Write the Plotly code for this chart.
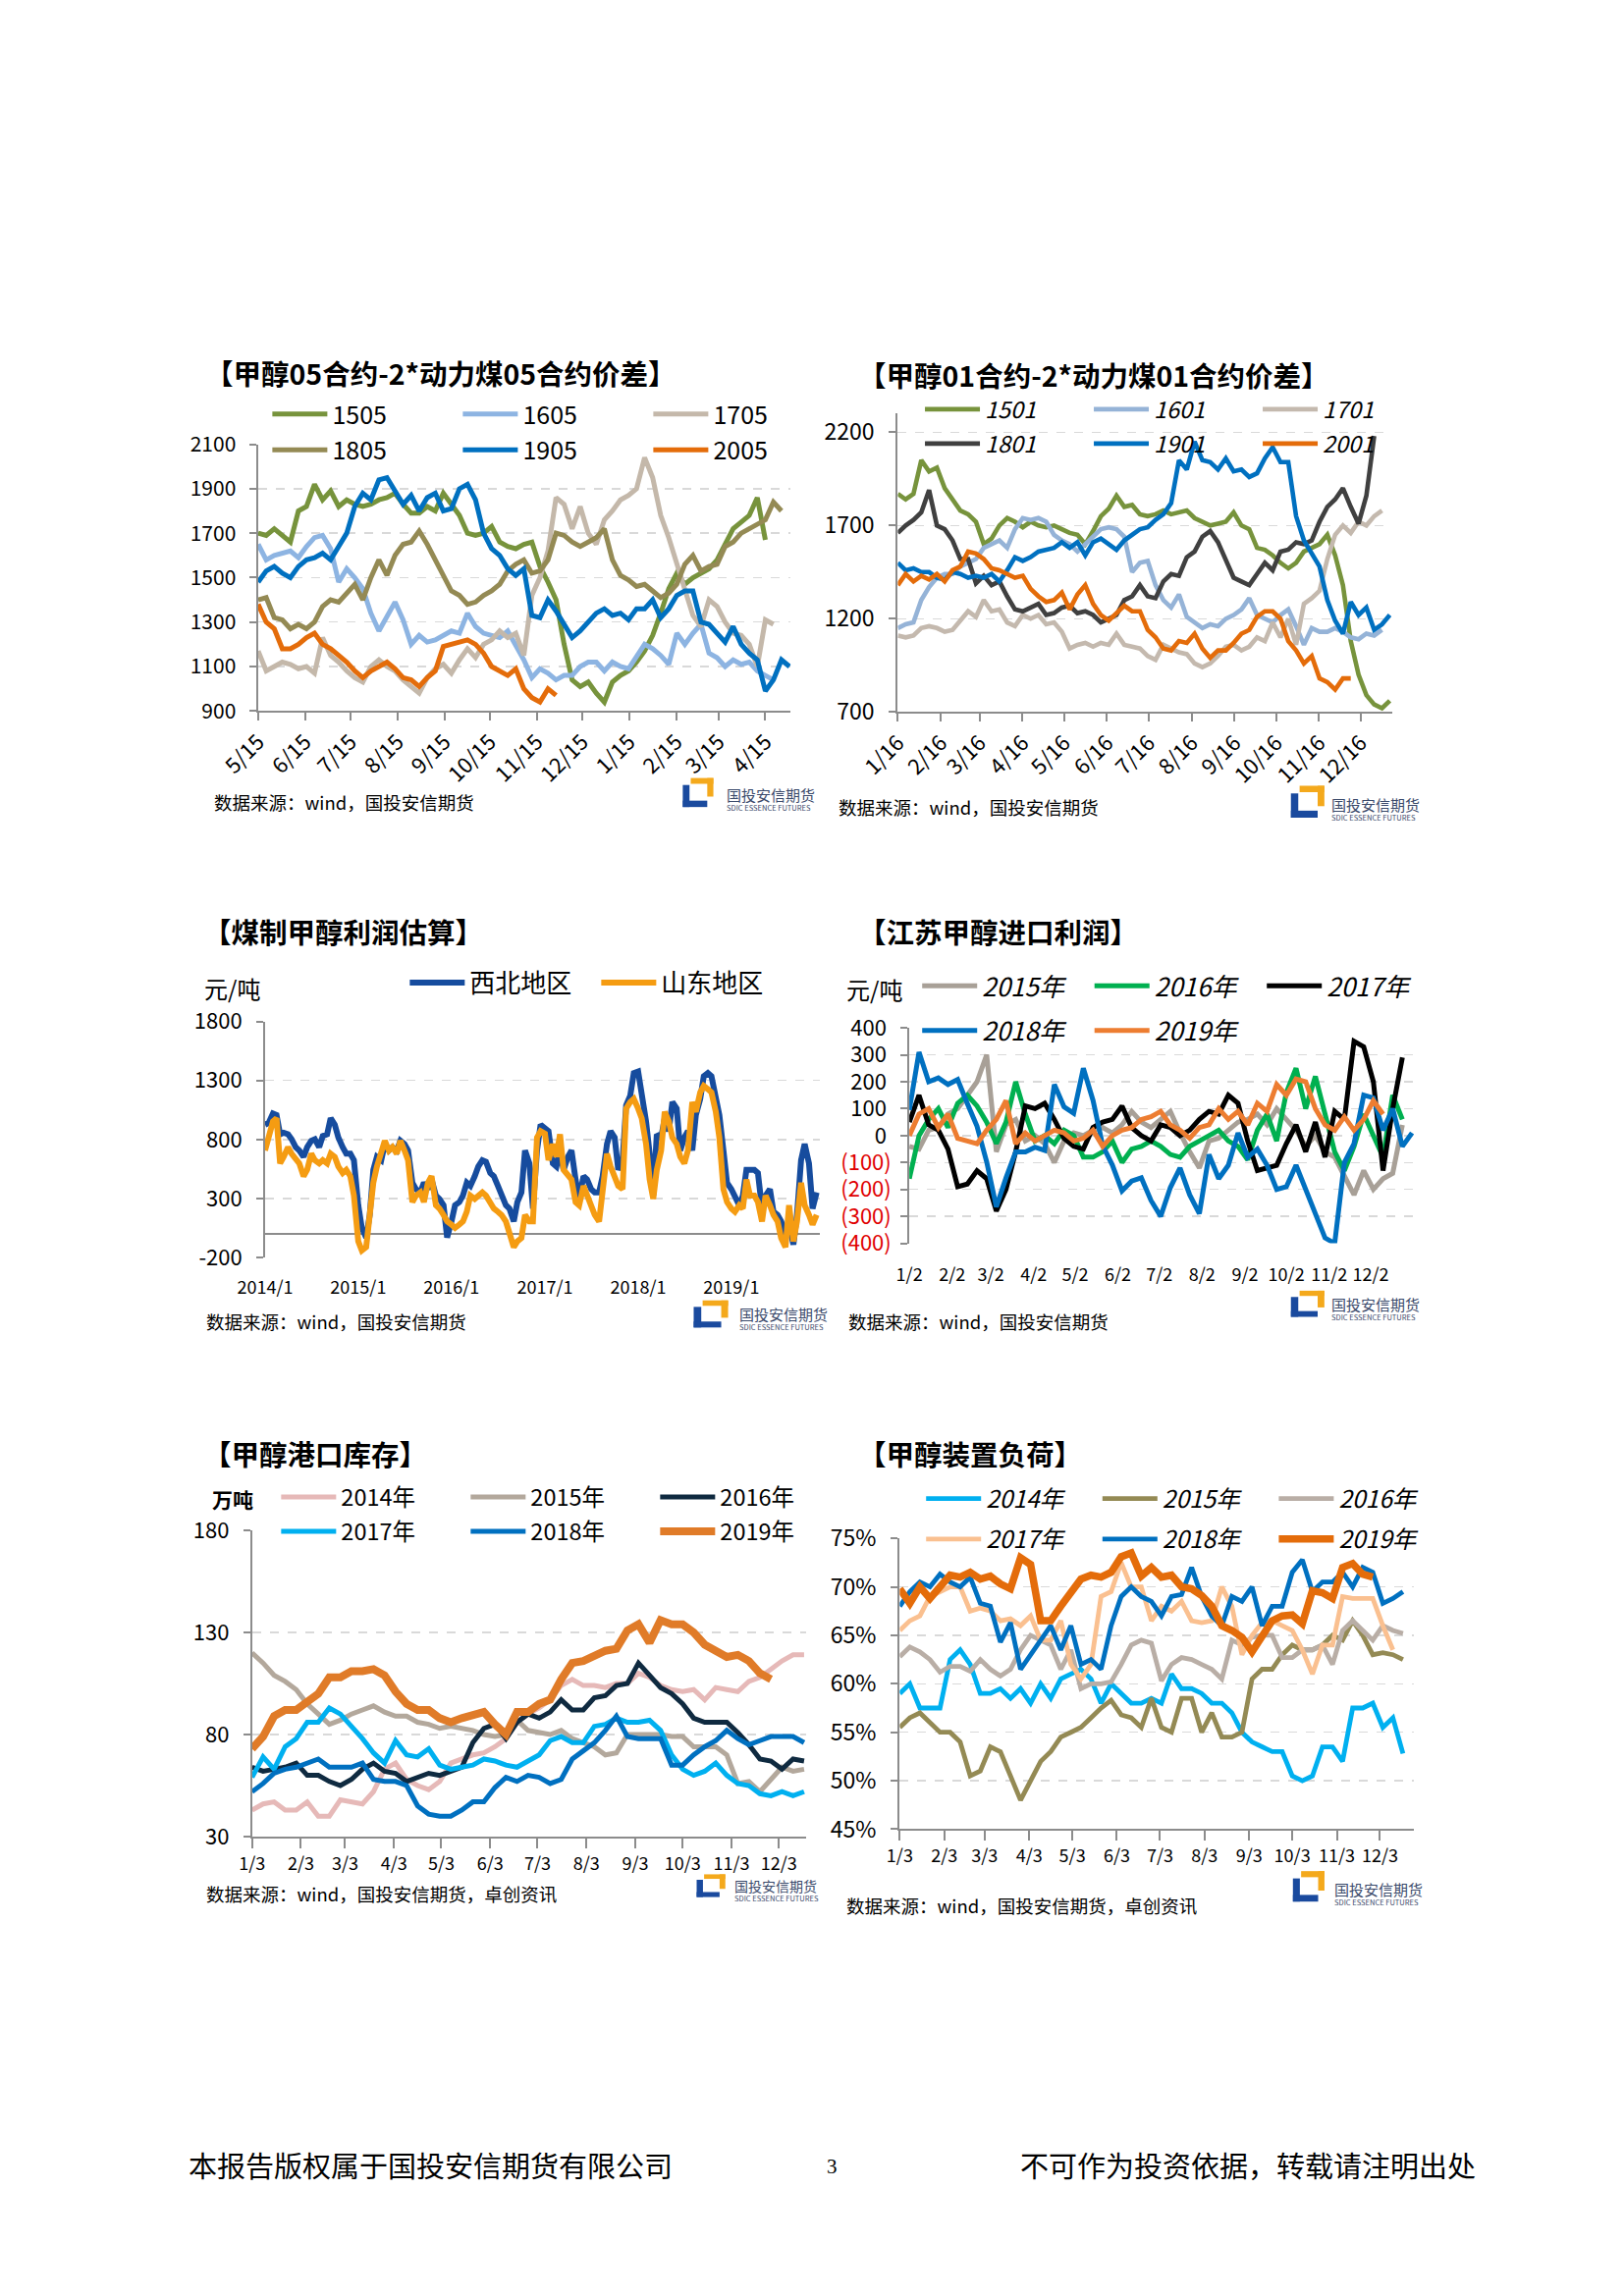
import numpy as np
import pandas as pd
import plotly.graph_objects as go

W, H = 1654, 2339
FONT = "Noto Sans CJK SC"
AX = "#8C8C8C"
GRID = "#D9D9D9"
NB = "\u00a0"

# ---------------- Panel 1: 甲醇05合约-2*动力煤05合约价差 ----------------
P1_STEP = 335 / 63  # days between samples (from 5/15)
P1_TICKS = [0, 31, 61, 92, 123, 153, 184, 214, 245, 276, 304, 335]
P1_LABELS = ["5/15", "6/15", "7/15", "8/15", "9/15", "10/15", "11/15", "12/15", "1/15", "2/15", "3/15", "4/15"]
P1_1505 = [1700, 1690, 1720, 1690, 1660, 1800, 1820, 1920, 1850, 1890, 1820, 1850, 1830, 1820, 1830, 1850, 1860, 1880,
           1830, 1790, 1790, 1820, 1800, 1880, 1830, 1780, 1700, 1690, 1700, 1730, 1660, 1640, 1630, 1650, 1660, 1550,
           1480, 1400, 1200, 1040, 1010, 1030, 980, 940, 1030, 1060, 1080, 1120, 1170, 1240, 1340, 1450, 1520, 1470,
           1500, 1520, 1540, 1580, 1650, 1720, 1750, 1780, 1860, 1670]
P1_1605 = [1650, 1580, 1600, 1610, 1620, 1590, 1640, 1680, 1690, 1630, 1480, 1540, 1500, 1450, 1340, 1260, 1330, 1390,
           1310, 1200, 1240, 1210, 1220, 1240, 1260, 1250, 1340, 1280, 1250, 1240, 1230, 1260, 1200, 1130, 1050, 1090,
           1070, 1040, 1060, 1060, 1100, 1120, 1120, 1080, 1120, 1100, 1090, 1150, 1200, 1180, 1150, 1110, 1250, 1200,
           1250, 1290, 1160, 1140, 1100, 1130, 1110, 1120, 1080, 1060, 1040]
P1_1705 = [1170, 1080, 1100, 1120, 1110, 1090, 1100, 1070, 1230, 1150, 1120, 1080, 1050, 1030, 1100, 1130, 1100, 1080,
           1040, 1010, 980, 1050, 1090, 1110, 1070, 1130, 1180, 1140, 1200, 1220, 1260, 1230, 1250, 1150, 1420, 1500,
           1620, 1860, 1830, 1720, 1820, 1700, 1650, 1760, 1800, 1850, 1870, 1900, 2040, 1950, 1780, 1680, 1560, 1450,
           1330, 1280, 1400, 1370, 1300, 1250, 1240, 1200, 1100, 1310, 1290]
P1_1805 = [1400, 1410, 1320, 1310, 1270, 1290, 1270, 1300, 1370, 1400, 1390, 1430, 1470, 1400, 1500, 1580, 1510, 1600,
           1650, 1660, 1710, 1650, 1580, 1510, 1440, 1420, 1380, 1390, 1420, 1440, 1470, 1530, 1560, 1580, 1520, 1530,
           1580, 1700, 1690, 1660, 1640, 1660, 1680, 1720, 1580, 1510, 1490, 1460, 1470, 1440, 1410, 1430, 1470, 1560,
           1600, 1530, 1550, 1560, 1640, 1660, 1700, 1720, 1740, 1760, 1840, 1800]
P1_1905 = [1480, 1530, 1550, 1520, 1500, 1550, 1580, 1590, 1610, 1580, 1640, 1700, 1820, 1880, 1850, 1940, 1950, 1890,
           1830, 1870, 1800, 1860, 1880, 1800, 1810, 1900, 1920, 1850, 1700, 1630, 1600, 1540, 1510, 1540, 1330, 1320,
           1400, 1350, 1290, 1230, 1260, 1300, 1340, 1360, 1330, 1340, 1310, 1360, 1360, 1400, 1320, 1360, 1420, 1440,
           1440, 1300, 1290, 1250, 1210, 1280, 1200, 1160, 1130, 990, 1040, 1130, 1100]
P1_2005 = [1380, 1300, 1270, 1180, 1180, 1200, 1230, 1250, 1200, 1180, 1150, 1120, 1080, 1050, 1080, 1100, 1120, 1090,
           1050, 1040, 1010, 1050, 1080, 1190, 1200, 1210, 1220, 1200, 1160, 1100, 1080, 1060, 1090, 1000, 960, 940,
           1000, 970]

# ---------------- Panel 2: 甲醇01合约-2*动力煤01合约价差 ----------------
P2_STEP = 334 / 59.25
P2_TICKS = [0, 31, 59, 90, 120, 151, 181, 212, 243, 273, 304, 334]
P2_LABELS = ["1/16", "2/16", "3/16", "4/16", "5/16", "6/16", "7/16", "8/16", "9/16", "10/16", "11/16", "12/16"]
P2_1501 = [1870, 1840, 1870, 2050, 1990, 2010, 1900, 1840, 1780, 1760, 1720, 1600, 1630, 1700, 1740, 1720, 1690, 1720,
           1700, 1690, 1700, 1680, 1660, 1650, 1600, 1670, 1750, 1790, 1860, 1800, 1810, 1760, 1750, 1760, 1780, 1760,
           1770, 1780, 1740, 1720, 1700, 1710, 1720, 1770, 1700, 1680, 1580, 1570, 1540, 1500, 1470, 1500, 1560, 1580,
           1600, 1650, 1540, 1380, 1080, 900, 790, 740, 720, 760]
P2_1601 = [1150, 1170, 1180, 1300, 1370, 1420, 1440, 1440, 1480, 1500, 1520, 1580, 1600, 1620, 1580, 1680, 1740, 1730,
           1740, 1720, 1650, 1620, 1600, 1560, 1600, 1640, 1680, 1690, 1680, 1640, 1450, 1500, 1510, 1380, 1300, 1260,
           1330, 1210, 1180, 1150, 1170, 1160, 1200, 1220, 1250, 1310, 1220, 1200, 1180, 1220, 1250, 1160, 1060, 1150,
           1130, 1130, 1150, 1130, 1100, 1090, 1120, 1110, 1140]
P2_1701 = [1110, 1100, 1110, 1150, 1160, 1150, 1130, 1140, 1190, 1240, 1210, 1300, 1240, 1250, 1180, 1160, 1220, 1200,
           1220, 1170, 1180, 1130, 1040, 1060, 1070, 1050, 1070, 1060, 1120, 1060, 1050, 1040, 1000, 980, 1060, 1040,
           1020, 1010, 960, 940, 960, 1000, 1050, 1060, 1030, 1050, 1100, 1080, 1180, 1100, 1200, 1060, 1280, 1310,
           1350, 1520, 1650, 1700, 1660, 1720, 1700, 1750, 1780]
P2_1801 = [1660, 1700, 1730, 1770, 1890, 1700, 1680, 1620, 1520, 1520, 1390, 1430, 1380, 1400, 1320, 1250, 1240, 1260,
           1280, 1220, 1230, 1260, 1270, 1230, 1240, 1220, 1180, 1200, 1220, 1300, 1320, 1380, 1320, 1310, 1400, 1440,
           1430, 1530, 1560, 1640, 1670, 1610, 1520, 1420, 1400, 1380, 1440, 1500, 1460, 1560, 1570, 1610, 1600, 1620,
           1720, 1800, 1840, 1900, 1800, 1710, 1860, 2180]
P2_1901 = [1500, 1460, 1470, 1450, 1450, 1420, 1410, 1450, 1440, 1420, 1430, 1420, 1440, 1400, 1460, 1530, 1510, 1530,
           1560, 1570, 1580, 1610, 1580, 1610, 1540, 1610, 1630, 1600, 1570, 1620, 1650, 1680, 1690, 1730, 1760, 1820,
           2050, 2000, 2150, 2050, 2040, 2000, 2060, 1990, 2000, 1960, 1980, 2060, 2120, 2040, 2040, 1750, 1620, 1550,
           1480, 1300, 1190, 1120, 1290, 1220, 1260, 1140, 1170, 1220]
P2_2001 = [1380, 1440, 1400, 1430, 1410, 1440, 1400, 1460, 1480, 1560, 1550, 1520, 1470, 1460, 1440, 1420, 1430, 1360,
           1320, 1290, 1300, 1340, 1250, 1330, 1380, 1280, 1220, 1190, 1230, 1270, 1240, 1240, 1140, 1100, 1040, 1030,
           1080, 1070, 1120, 1040, 990, 1030, 1030, 1070, 1120, 1140, 1210, 1240, 1240, 1200, 1080, 1030, 960, 1000,
           880, 860, 820, 880, 880]

# ---------------- Panel 3: 煤制甲醇利润估算 (semi-monthly from 2014/1) ----------------
P3_START = "2014-01-01"
P3_TICKS = ["2014-01-01", "2015-01-01", "2016-01-01", "2017-01-01", "2018-01-01", "2019-01-01"]
P3_LABELS = ["2014/1", "2015/1", "2016/1", "2017/1", "2018/1", "2019/1"]
P3_NW = [926, 940, 1020, 1008, 844, 858, 844, 803, 735, 707, 653, 735, 790, 803, 735, 830, 844, 980, 926, 817,
         735, 680, 680, 625, 243, 51, -30, 161, 543, 653, 625, 762, 707, 735, 707, 790, 762, 707, 434, 379,
         352, 434, 379, 461, 325, 297, 243, -30, 106, 243, 270, 325, 434, 407, 489, 571, 625, 612, 516, 489,
         407, 325, 243, 215, 106, 270, 352, 707, 598, 215, 707, 926, 898,
         871, 598, 571, 707, 543, 653, 707, 461, 297, 489, 461, 379, 352, 352, 489, 762, 871, 817, 543, 625,
         1090, 1172, 1363, 1377, 1199, 953, 680, 325, 844, 817, 980, 871, 1117, 1062, 707, 817, 871, 707, 1008, 1144,
         1336, 1363, 1336, 1172, 1008, 707, 434, 379, 325, 243, 325, 543, 543, 543, 516, 215, 325, 379, 188, 161,
         106, -8, 79, -90, 161, 625, 762, 598, 215, 352]
P3_SD = [707, 817, 953, 980, 598, 653, 735, 680, 625, 598, 489, 543, 680, 625, 598, 625, 598, 680, 653, 571,
         516, 543, 489, 325, -63, -140, -112, 161, 434, 571, 680, 790, 707, 735, 680, 790, 707, 625, 270, 325,
         352, 270, 434, 489, 243, 215, 161, 106, 79, 51, 79, 106, 188, 325, 297, 325, 352, 325, 270, 215,
         188, 161, 106, -8, -112, -63, -35, 161, 106, 106, 817, 871, 850,
         625, 762, 653, 844, 543, 489, 461, 270, 243, 407, 325, 215, 161, 106, 325, 680, 571, 489, 407, 379,
         1062, 1117, 1144, 1062, 980, 762, 461, 297, 543, 707, 1035, 953, 817, 762, 653, 598, 707, 1117, 1035, 1199,
         1254, 1227, 1199, 1035, 817, 379, 270, 215, 188, 243, 215, 461, 325, 325, 270, 106, 325, 243, 161, 106,
         -35, -112, 243, -63, 106, 434, 243, 161, 79, 161]

# ---------------- Panel 4: 江苏甲醇进口利润 (weekly, day of year from 1/2) ----------------
P4_TICKS = [0, 31, 59, 90, 120, 151, 181, 212, 243, 273, 304, 334]
P4_LABELS = ["1/2", "2/2", "3/2", "4/2", "5/2", "6/2", "7/2", "8/2", "9/2", "10/2", "11/2", "12/2"]
P4_Y = [-400, -300, -200, -100, 0, 100, 200, 300, 400]
P4_2015 = [-40, -50, 20, 30, 80, 100, 150, 200, 300, -60, 40, 60, -20, 0, -30, -100, -20, 10, 0, 20, 30, 10, 40, 90,
           50, 30, 60, 90, 10, -60, -120, -20, -10, 20, 50, 60, 80, 40, 100, 60, 20, -40, 0, -60, -80, -150, -220, -130,
           -200, -160, -140, 40]
P4_2016 = [-160, 0, 60, 100, 30, 120, 150, 110, 50, -30, 50, 200, 80, -20, 0, -30, 20, 0, -80, -80, -60, -20, -100, -50,
           -40, -20, -40, -70, -80, -40, -20, 0, 20, -20, -40, -90, 20, 80, -20, 160, 250, 100, 220, 80, -60, -130, -40,
           80, 0, -80, 150, 60]
P4_2017 = [50, 150, 40, 20, -50, -190, -180, -130, -160, -280, -200, -60, 110, 100, 120, 60, -10, -40, -50, 30, 50, 60,
           110, 30, 0, -20, 40, 30, 0, 20, 60, 90, 80, 150, 120, -20, -130, -120, -110, -30, 40, -60, 50, -80, 90, 60,
           350, 330, 200, -130, 100, 290]
P4_2018 = [95, 310, 200, 214, 190, 208, 119, 35, -97, -265, -157, -61, -61, -43, -55, 190, 107, 83, 250, 131, -37, -109,
           -205, -169, -157, -241, -300, -193, -120, -220, -290, -70, -160, -110, 10, -80, -50, -110, -200, -190, -110,
           -200, -290, -380, -400, -100, -30, 150, 140, 20, 100, -40, 10]
P4_2019 = [0, 80, 100, 30, 80, -10, -20, -30, 20, 60, 130, -30, 10, -20, 0, 20, 10, -20, -10, 20, -40, 0, 20, 30, 60,
           70, 90, 40, 20, -10, 30, 40, 100, 60, 90, 40, 120, 90, 190, 150, 210, 200, 100, 40, 20, 70, 20, 60, 130, 80]

# ---------------- Panel 5: 甲醇港口库存 (weekly from 1/3) ----------------
P5_TICKS = [0, 31, 59, 90, 120, 151, 181, 212, 243, 273, 304, 334]
P5_LABELS = ["1/3", "2/3", "3/3", "4/3", "5/3", "6/3", "7/3", "8/3", "9/3", "10/3", "11/3", "12/3"]
P5_2014 = [43, 46, 47, 43, 43, 47, 40, 40, 48, 47, 46, 52, 63, 66, 58, 55, 53, 57, 66, 68, 70, 71, 74, 78, 86, 90, 93,
           97, 104, 107, 104, 104, 103, 105, 105, 110, 108, 104, 102, 101, 102, 97, 103, 102, 101, 106, 108, 112, 116,
           119, 119]
P5_2015 = [120, 115, 109, 106, 102, 95, 90, 85, 87, 90, 92, 94, 91, 89, 89, 86, 85, 83, 84, 83, 82, 80, 79, 80, 87, 82,
           81, 80, 82, 78, 76, 74, 70, 71, 80, 80, 80, 80, 79, 79, 74, 74, 74, 70, 56, 57, 52, 58, 64, 62, 63]
P5_2016 = [64, 62, 63, 64, 66, 60, 60, 57, 55, 58, 63, 66, 62, 61, 57, 59, 61, 60, 62, 64, 76, 83, 85, 78, 86, 90, 88,
           91, 97, 92, 92, 98, 99, 104, 105, 115, 109, 103, 100, 95, 88, 86, 86, 86, 81, 75, 68, 67, 63, 68, 67]
P5_2017 = [59, 69, 63, 74, 78, 86, 86, 93, 90, 84, 78, 71, 66, 77, 70, 69, 73, 65, 63, 64, 65, 68, 67, 65, 64, 67, 70,
           77, 79, 76, 76, 84, 85, 88, 86, 86, 87, 82, 70, 63, 60, 62, 66, 60, 56, 55, 51, 50, 52, 50, 52]
P5_2018 = [52, 56, 61, 63, 64, 66, 68, 64, 64, 64, 66, 58, 57, 57, 55, 45, 41, 40, 40, 43, 47, 47, 54, 59, 57, 60, 59,
           56, 58, 68, 72, 76, 82, 89, 79, 78, 78, 78, 65, 65, 70, 74, 77, 82, 78, 75, 77, 79, 79, 79, 76]
P5_2019 = [73, 79, 89, 92, 92, 96, 100, 108, 108, 111, 111, 112, 109, 101, 95, 92, 92, 88, 86, 88, 90, 91, 85, 80, 91,
           91, 95, 97, 107, 115, 116, 119, 121, 122, 131, 134, 125, 136, 134, 134, 130, 124, 121, 118, 119, 116, 110, 107]

# ---------------- Panel 6: 甲醇装置负荷 (weekly from 1/3, %) ----------------
P6_2014 = [59, 60, 57.5, 57.5, 57.5, 62.5, 63.5, 62, 59, 59, 59.5, 58.5, 59.5, 58, 60, 58.5, 60.5, 61, 61.5, 60.5, 58,
           60, 59, 58, 58, 58.5, 58, 61, 59.5, 59.5, 59, 58, 58, 57, 55, 54, 53.5, 53, 53, 50.5, 50, 50.5, 53.5, 53.5,
           52, 57.5, 57.5, 58, 55.5, 56.5, 52.8]
P6_2015 = [55.5, 56.5, 57, 56, 55, 55, 54, 50.5, 51, 53.5, 53, 50.5, 48, 50, 52, 53, 54.5, 55, 55.5, 56.5, 57.5, 58.3,
           56.8, 56.5, 55.5, 58.5, 55.5, 55, 58.5, 58.5, 55, 57, 54.5, 54.5, 55, 60.5, 61.5, 61.5, 63, 64, 63.5, 63.5,
           64, 65, 64.5, 66.5, 65, 63, 63.2, 63, 62.5]
P6_2016 = [62.8, 63.8, 63.3, 62.5, 61.2, 61.8, 61.8, 61.3, 62.5, 61.5, 60.8, 61.5, 63.5, 65, 64.5, 64, 61.5, 63.5, 59.5,
           60, 60, 60.2, 62, 64, 64.5, 64.2, 60.3, 62, 62.7, 62.5, 62, 61.5, 60.5, 64.5, 64, 64.8, 65, 65, 62.7, 62.7,
           63.5, 63.5, 64, 62, 65.5, 66.5, 65.5, 64.5, 66, 65.5, 65.2]
P6_2017 = [65.5, 66.5, 67, 69, 69.5, 70, 70, 67.5, 67.8, 67.5, 66.5, 66.7, 66, 67, 64.5, 64.5, 66.5, 62, 60.5, 62, 69,
           69.5, 72.5, 70, 70, 66.5, 68, 67.5, 68.5, 66.5, 66.3, 66.5, 70, 68, 63, 65, 66.3, 66.5, 66, 65.5, 63.5, 61,
           64, 64, 69, 68.8, 68.8, 68.8, 66, 63.5]
P6_2018 = [68, 69.5, 70.5, 70, 71.3, 70.5, 70, 71, 68.3, 68, 64.3, 66.3, 61.5, 63, 64.3, 66, 63.5, 66, 62, 62.5, 61.5,
           66, 69, 70, 69, 68.5, 67, 69, 69.2, 72, 69, 67, 66, 69, 68.5, 70, 66, 68, 68, 71.5, 72.8, 69.5, 70.5, 70.5,
           71.5, 70, 72, 71.5, 68.3, 68.8, 69.5]
P6_2019 = [69.8, 68.3, 70, 68.8, 70, 71.2, 71, 71.5, 70.8, 71.1, 70.3, 69.8, 73, 72.3, 66.5, 66.5, 68, 69.5, 70.8, 71.2,
           71, 71.5, 73.1, 73.5, 71.1, 72, 71, 71.2, 70, 69.8, 69.1, 68, 66, 65.5, 64.8, 63.3, 65, 66.5, 67, 67.1, 66.2,
           69.6, 69.4, 68.8, 72, 72.4, 71.3, 71]

WEEK = 7


# ---------------- helpers ----------------
def dx(a, b):
    return [a / W, b / W]


def dy(top, bottom):
    return [1 - bottom / H, 1 - top / H]


def days(vals, step):
    return list(np.arange(len(vals)) * step)


fig = go.Figure()
ann = []
shapes = []
layout = {}


def sfx(n):
    return "" if n == 1 else str(n)


def add(vx, vy, name, color, width, ax, legend):
    fig.add_trace(go.Scatter(x=vx, y=vy, name=name, mode="lines",
                             line=dict(color=color, width=width),
                             xaxis="x" + sfx(ax), yaxis="y" + sfx(ax),
                             legend=legend, hoverinfo="skip"))


def xaxis(dom, ax, rng, tv, tt, angle=0, line=True, fs=18, typ="linear", ticklen=8):
    layout["xaxis" + sfx(ax)] = dict(
        domain=dom, anchor="y" + sfx(ax), range=rng, type=typ,
        tickmode="array", tickvals=tv, ticktext=tt, tickangle=angle,
        showline=line, linecolor=AX, linewidth=2, ticks="outside",
        ticklen=ticklen, tickwidth=2, tickcolor=AX if line else "rgba(0,0,0,0)",
        showgrid=False, zeroline=False,
        tickfont=dict(family=FONT, size=fs, color="#000"), fixedrange=True)


def yaxis(dom, ax, rng, tv, tt, fs=21, zero=False, pad=2):
    layout["yaxis" + sfx(ax)] = dict(
        domain=dom, anchor="x" + sfx(ax), range=rng,
        tickmode="array", tickvals=tv, ticktext=[t + NB * pad for t in tt],
        showline=True, linecolor=AX, linewidth=2, ticks="outside", ticklen=7, tickwidth=2, tickcolor=AX,
        showgrid=True, gridcolor=GRID, gridwidth=1.5, griddash="dash",
        zeroline=zero, zerolinecolor=AX, zerolinewidth=2,
        tickfont=dict(family=FONT, size=fs, color="#000"), fixedrange=True)


def legend(key, x_line, y_c, pitch, size, italic=False):
    layout[key] = dict(orientation="h", x=(x_line - 5) / W, y=1 - y_c / H, xanchor="left", yanchor="middle",
                       bgcolor="rgba(0,0,0,0)", borderwidth=0, itemwidth=56,
                       entrywidth=pitch - 71, entrywidthmode="pixels", tracegroupgap=0,
                       font=dict(family=FONT, size=size, color="#000", style="italic" if italic else "normal"))


def text(x, y, s, size, color="#000", anchor="left", family=FONT):
    ann.append(dict(x=x / W, y=1 - y / H, xref="paper", yref="paper", text=s, showarrow=False,
                    xanchor=anchor, yanchor="middle", font=dict(family=family, size=size, color=color)))


def logo(x0, y0, w, h, tx, ty, fs):
    blue, orange = "#1A4A9E", "#F4A91C"
    parts = [(0, 0.22, 0.24, 1.0, blue), (0, 0.8, 0.78, 1.0, blue),
             (0.26, 1.0, 0.0, 0.2, orange), (0.8, 1.0, 0.0, 0.64, orange)]
    for xa, xb, ya, yb, col in parts:
        shapes.append(dict(type="rect", xref="paper", yref="paper",
                           x0=(x0 + xa * w) / W, x1=(x0 + xb * w) / W,
                           y0=1 - (y0 + yb * h) / H, y1=1 - (y0 + ya * h) / H,
                           fillcolor=col, line=dict(width=0)))
    ann.append(dict(x=tx / W, y=1 - ty / H, xref="paper", yref="paper", showarrow=False,
                    xanchor="left", yanchor="middle", align="left",
                    text="<span style='font-size:%dpx'>国投安信期货</span><br>SDIC ESSENCE FUTURES" % fs,
                    font=dict(family=FONT, size=7.5, color="#3B4A6B")))


# ---------------- Panel 1 ----------------
for vals, name, col, lg in [(P1_1505, "1505", "#77933C", "legend"), (P1_1605, "1605", "#8DB4E2", "legend"),
                            (P1_1705, "1705", "#C4B8AA", "legend"), (P1_1805, "1805", "#948A54", "legend2"),
                            (P1_1905, "1905", "#0070C0", "legend2"), (P1_2005, "2005", "#E46C0A", "legend2")]:
    add(days(vals, P1_STEP), vals, name, col, 5, 1, lg)
xaxis(dx(225.8, 782.6), 1, [0, 351.7], P1_TICKS, P1_LABELS, angle=-45, fs=22)
yaxis(dy(440, 715.7), 1, [900, 2100], list(range(900, 2101, 200)), [str(v) for v in range(900, 2101, 200)], fs=21)
legend("legend", 240.5, 409, 194, 25)
legend("legend2", 240.5, 446, 194, 25)
text(168, 366, "<b>【甲醇05合约-2*动力煤05合约价差】</b>", 28.5)
text(177.4, 810, "数据来源：wind，国投安信期货", 18.5)
logo(669.8, 785, 32, 30, 714, 806, 15)

# ---------------- Panel 2 ----------------
for vals, name, col, lg in [(P2_1501, "1501", "#77933C", "legend3"), (P2_1601, "1601", "#95B3D7", "legend3"),
                            (P2_1701, "1701", "#C4B9AE", "legend3"), (P2_1801, "1801", "#404040", "legend4"),
                            (P2_1901, "1901", "#0070C0", "legend4"), (P2_2001, "2001", "#E46C0A", "legend4")]:
    add(days(vals, P2_STEP), vals, name, col, 4.6, 2, lg)
xaxis(dx(894.7, 1411.8), 2, [0, 357], P2_TICKS, P2_LABELS, angle=-45, fs=22)
yaxis(dy(408.3, 716.7), 2, [700, 2300], [700, 1200, 1700, 2200], ["700", "1200", "1700", "2200"], fs=23)
legend("legend3", 922.9, 404, 172, 23.5, italic=True)
legend("legend4", 922.9, 439.5, 172, 23.5, italic=True)
text(851.5, 368, "<b>【甲醇01合约-2*动力煤01合约价差】</b>", 28.5)
text(830.2, 815, "数据来源：wind，国投安信期货", 18.5)
logo(1305.7, 793, 35, 33, 1346.5, 816, 15.5)

# ---------------- Panel 3 ----------------
p3x = pd.date_range(P3_START, periods=len(P3_NW), freq="SMS")
add(p3x, P3_NW, "西北地区", "#164C9E", 6, 3, "legend5")
add(p3x, P3_SD, "山东地区", "#F59C12", 6, 3, "legend5")
xaxis(dx(233, 813), 3, ["2014-01-01", "2019-12-13"], P3_TICKS, P3_LABELS, line=False, fs=18, typ="date", ticklen=14)
yaxis(dy(1036.7, 1280.7), 3, [-200, 1800], [-200, 300, 800, 1300, 1800], ["-200", "300", "800", "1300", "1800"],
      fs=22, zero=True)
legend("legend5", 384.2, 996.7, 195, 26)
text(166.5, 943.3, "<b>【煤制甲醇利润估算】</b>", 28.5)
text(167.3, 1002, "元/吨", 24)
text(169.5, 1346.7, "数据来源：wind，国投安信期货", 18.5)
logo(681.2, 1325, 36, 28, 726.8, 1343.5, 15.5)

# ---------------- Panel 4 ----------------
for vals, name, col, lg in [(P4_2015, "2015年", "#A8A097", "legend6"), (P4_2016, "2016年", "#00B050", "legend6"),
                            (P4_2017, "2017年", "#000000", "legend6"), (P4_2018, "2018年", "#0070C0", "legend7"),
                            (P4_2019, "2019年", "#ED7D31", "legend7")]:
    add(days(vals, WEEK), vals, name, col, 5, 4, lg)
xaxis(dx(906.7, 1436.7), 4, [0, 367], P4_TICKS, P4_LABELS, line=False, fs=18, ticklen=16)
p4_text = [("<span style='color:#E00000'>(%d)</span>" % -v) if v < 0 else (str(v) + NB) for v in P4_Y]
yaxis(dy(1043.3, 1266), 4, [-400, 400], P4_Y, p4_text, fs=22, pad=1)
legend("legend6", 920, 1000, 175.5, 26, italic=True)
legend("legend7", 920, 1046, 175.5, 26, italic=True)
text(851.5, 943.3, "<b>【江苏甲醇进口利润】</b>", 28.5)
text(838.4, 1003, "元/吨", 24)
text(840.4, 1346.7, "数据来源：wind，国投安信期货", 18.5)
logo(1305.7, 1315, 35, 27, 1346.5, 1333, 15)

# ---------------- Panel 5 ----------------
for vals, name, col, wd, lg in [(P5_2014, "2014年", "#E6B9B8", 5, "legend8"),
                                (P5_2015, "2015年", "#B3A89C", 5, "legend8"),
                                (P5_2016, "2016年", "#0F2A40", 5, "legend8"),
                                (P5_2017, "2017年", "#00B0F0", 5, "legend9"),
                                (P5_2018, "2018年", "#0070C0", 5, "legend9"),
                                (P5_2019, "2019年", "#E07B28", 8, "legend9")]:
    add(days(vals, WEEK), vals, name, col, wd, 5, lg)
xaxis(dx(219.4, 798.3), 5, [0, 351], P5_TICKS, P5_LABELS, fs=18, ticklen=10)
yaxis(dy(1562.7, 1879.3), 5, [30, 180], [30, 80, 130, 180], ["30", "80", "130", "180"], fs=22)
legend("legend8", 249.7, 1528.5, 193, 23.5)
legend("legend9", 249.7, 1564, 193, 23.5)
text(166.5, 1483, "<b>【甲醇港口库存】</b>", 28.5)
text(176, 1530, "<b>万吨</b>", 21)
text(169.5, 1938.3, "数据来源：wind，国投安信期货，卓创资讯", 18.5)
logo(684.3, 1918.3, 30, 23.5, 721.6, 1934, 14)

# ---------------- Panel 6 ----------------
for vals, name, col, wd, lg in [(P6_2014, "2014年", "#00B0F0", 4.8, "legend10"),
                                (P6_2015, "2015年", "#948A54", 4.8, "legend10"),
                                (P6_2016, "2016年", "#B9AEA6", 4.8, "legend10"),
                                (P6_2017, "2017年", "#FAC090", 4.8, "legend11"),
                                (P6_2018, "2018年", "#0070C0", 4.8, "legend11"),
                                (P6_2019, "2019年", "#E46C0A", 7.5, "legend11")]:
    add(days(vals, WEEK), vals, name, col, wd, 6, lg)
xaxis(dx(896.7, 1434.3), 6, [0, 357.6], P5_TICKS, P5_LABELS, fs=18, ticklen=10)
yaxis(dy(1571, 1871.7), 6, [45, 75], [45, 50, 55, 60, 65, 70, 75], ["45%", "50%", "55%", "60%", "65%", "70%", "75%"],
      fs=23)
legend("legend10", 924.1, 1530, 179.6, 24.5, italic=True)
legend("legend11", 924.1, 1571.7, 179.6, 24.5, italic=True)
text(851.5, 1483, "<b>【甲醇装置负荷】</b>", 28.5)
text(838.4, 1950, "数据来源：wind，国投安信期货，卓创资讯", 18.5)
logo(1307.8, 1915, 33, 31.5, 1348.6, 1937.5, 15)

# ---------------- footer ----------------
text(150.9, 2218, "本报告版权属于国投安信期货有限公司", 29)
text(826, 2220, "3", 21, anchor="center", family="Liberation Serif")
text(1501, 2218, "不可作为投资依据，转载请注明出处", 29, anchor="right")

fig.update_layout(width=W, height=H, margin=dict(l=0, r=0, t=0, b=0, pad=0), autosize=False,
                  paper_bgcolor="white", plot_bgcolor="white", showlegend=True,
                  annotations=ann, shapes=shapes, hovermode=False, **layout)

fig.write_html("out.html", config={"displayModeBar": False, "staticPlot": True},
               post_script="document.body.style.margin='0';")
